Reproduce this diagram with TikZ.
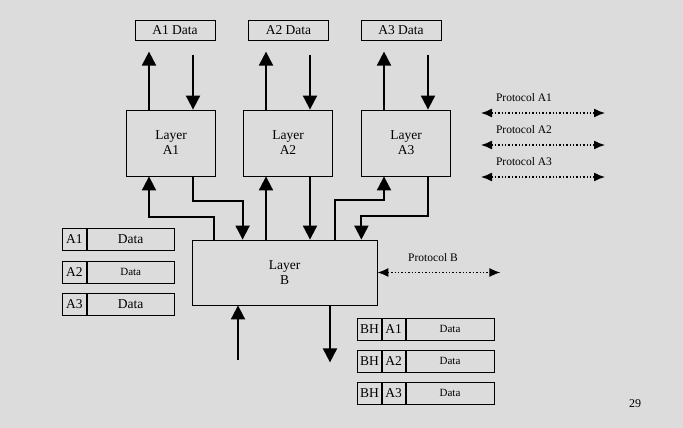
\documentclass[tikz,border=0pt]{standalone}
\usepackage{fontspec}
\setmainfont{Liberation Serif}
\usetikzlibrary{arrows.meta,positioning}
\definecolor{slidegray}{RGB}{220,220,220}

\tikzstyle{layerbox} = [draw=black, line width=0.8pt, rectangle, minimum width=89pt, minimum height=66pt, align=center, inner sep=0pt, font=\fontsize{13.5}{15}\selectfont]
\tikzstyle{databox} = [draw=black, line width=0.8pt, rectangle, minimum width=80pt, minimum height=20pt, inner sep=0pt, font=\fontsize{13.5}{15}\selectfont]
\tikzstyle{cell} = [draw=black, line width=0.8pt, rectangle, minimum height=22pt, inner sep=0pt, font=\fontsize{13.5}{15}\selectfont]
\tikzstyle{flow} = [line width=1.9pt, -{Triangle[length=14pt,width=14pt]}]
\tikzstyle{proto} = [line width=1.4pt, dotted, {Latex[length=11pt,width=9pt]}-{Latex[length=11pt,width=9pt]}]
\tikzstyle{lbl} = [inner sep=0pt, font=\fontsize{11.5}{13}\selectfont]

\begin{document}
\begin{tikzpicture}[x=1pt,y=-1pt]
\fill[slidegray] (0,0) rectangle (683,428);
\useasboundingbox (0,0) rectangle (683,428);

% application layers
\node[databox] (da1) at (175,30) {A1 Data};
\node[databox] (da2) at (288.5,30) {A2 Data};
\node[databox] (da3) at (401,30) {A3 Data};
\node[layerbox] (la1) at (171,143) {Layer\\A1};
\node[layerbox] (la2) at (288,143) {Layer\\A2};
\node[layerbox] (la3) at (406,143) {Layer\\A3};
\node[layerbox, minimum width=185pt, minimum height=65pt] (lb) at (284.5,272.5) {Layer\\B};

\foreach \n in {1,2,3} {
  \draw[flow] ([xshift=-22pt]la\n.north) -- ++(0,-58);
  \draw[flow] ([xshift=22pt]la\n.north) ++(0,-55) -- ([xshift=22pt]la\n.north);
}

% between A layers and B
\draw[flow] ([xshift=22pt]lb.north west) -- ++(0,-23) -| ([xshift=-22pt]la1.south);
\draw[flow] ([xshift=22pt]la1.south) -- ++(0,25) -| ([xshift=51pt]lb.north west);
\draw[flow] ([xshift=-22pt]la2.south |- lb.north) -- ([xshift=-22pt]la2.south);
\draw[flow] ([xshift=22pt]la2.south) -- ([xshift=22pt]la2.south |- lb.north);
\draw[flow] ([xshift=-42pt]lb.north east) -- ++(0,-40) -| ([xshift=-22pt]la3.south);
\draw[flow] ([xshift=22pt]la3.south) -- ++(0,40) -| ([xshift=-16pt]lb.north east);

% below B
\draw[flow] ([xshift=-46.5pt,yshift=-55pt]lb.south) -- ([xshift=-46.5pt]lb.south);
\draw[flow] ([xshift=45.5pt]lb.south) -- ++(0,57);

% protocols
\foreach \n in {1,2,3} {
  \node[lbl] (pa\n) at (524,66+32*\n) {Protocol A\n};
  \draw[proto] (481,81+32*\n) -- (605,81+32*\n);
}
\node[lbl] (pb) at (433,258) {Protocol B};
\draw[proto] (lb.east) -- ++(123,0);

% packets
\foreach \n/\s in {1/13.5,2/11,3/13.5} {
  \node[cell, minimum width=24pt, anchor=north west] (ha\n) at (62,195.5+32.5*\n) {A\n};
  \node[cell, minimum width=87pt, anchor=west, font=\fontsize{\s}{13}\selectfont] (pd\n) at (ha\n.east) {Data};
}
\foreach \n in {1,2,3} {
  \node[cell, minimum width=24pt, anchor=north west] (bh\n) at (357,286+32*\n) {BH};
  \node[cell, minimum width=23pt, anchor=west] (bha\n) at (bh\n.east) {A\n};
  \node[cell, minimum width=88pt, anchor=west, font=\fontsize{11}{13}\selectfont] (bhd\n) at (bha\n.east) {Data};
}

\node[lbl, font=\fontsize{12}{13}\selectfont] (pg) at (635,404) {29};
\end{tikzpicture}
\end{document}
